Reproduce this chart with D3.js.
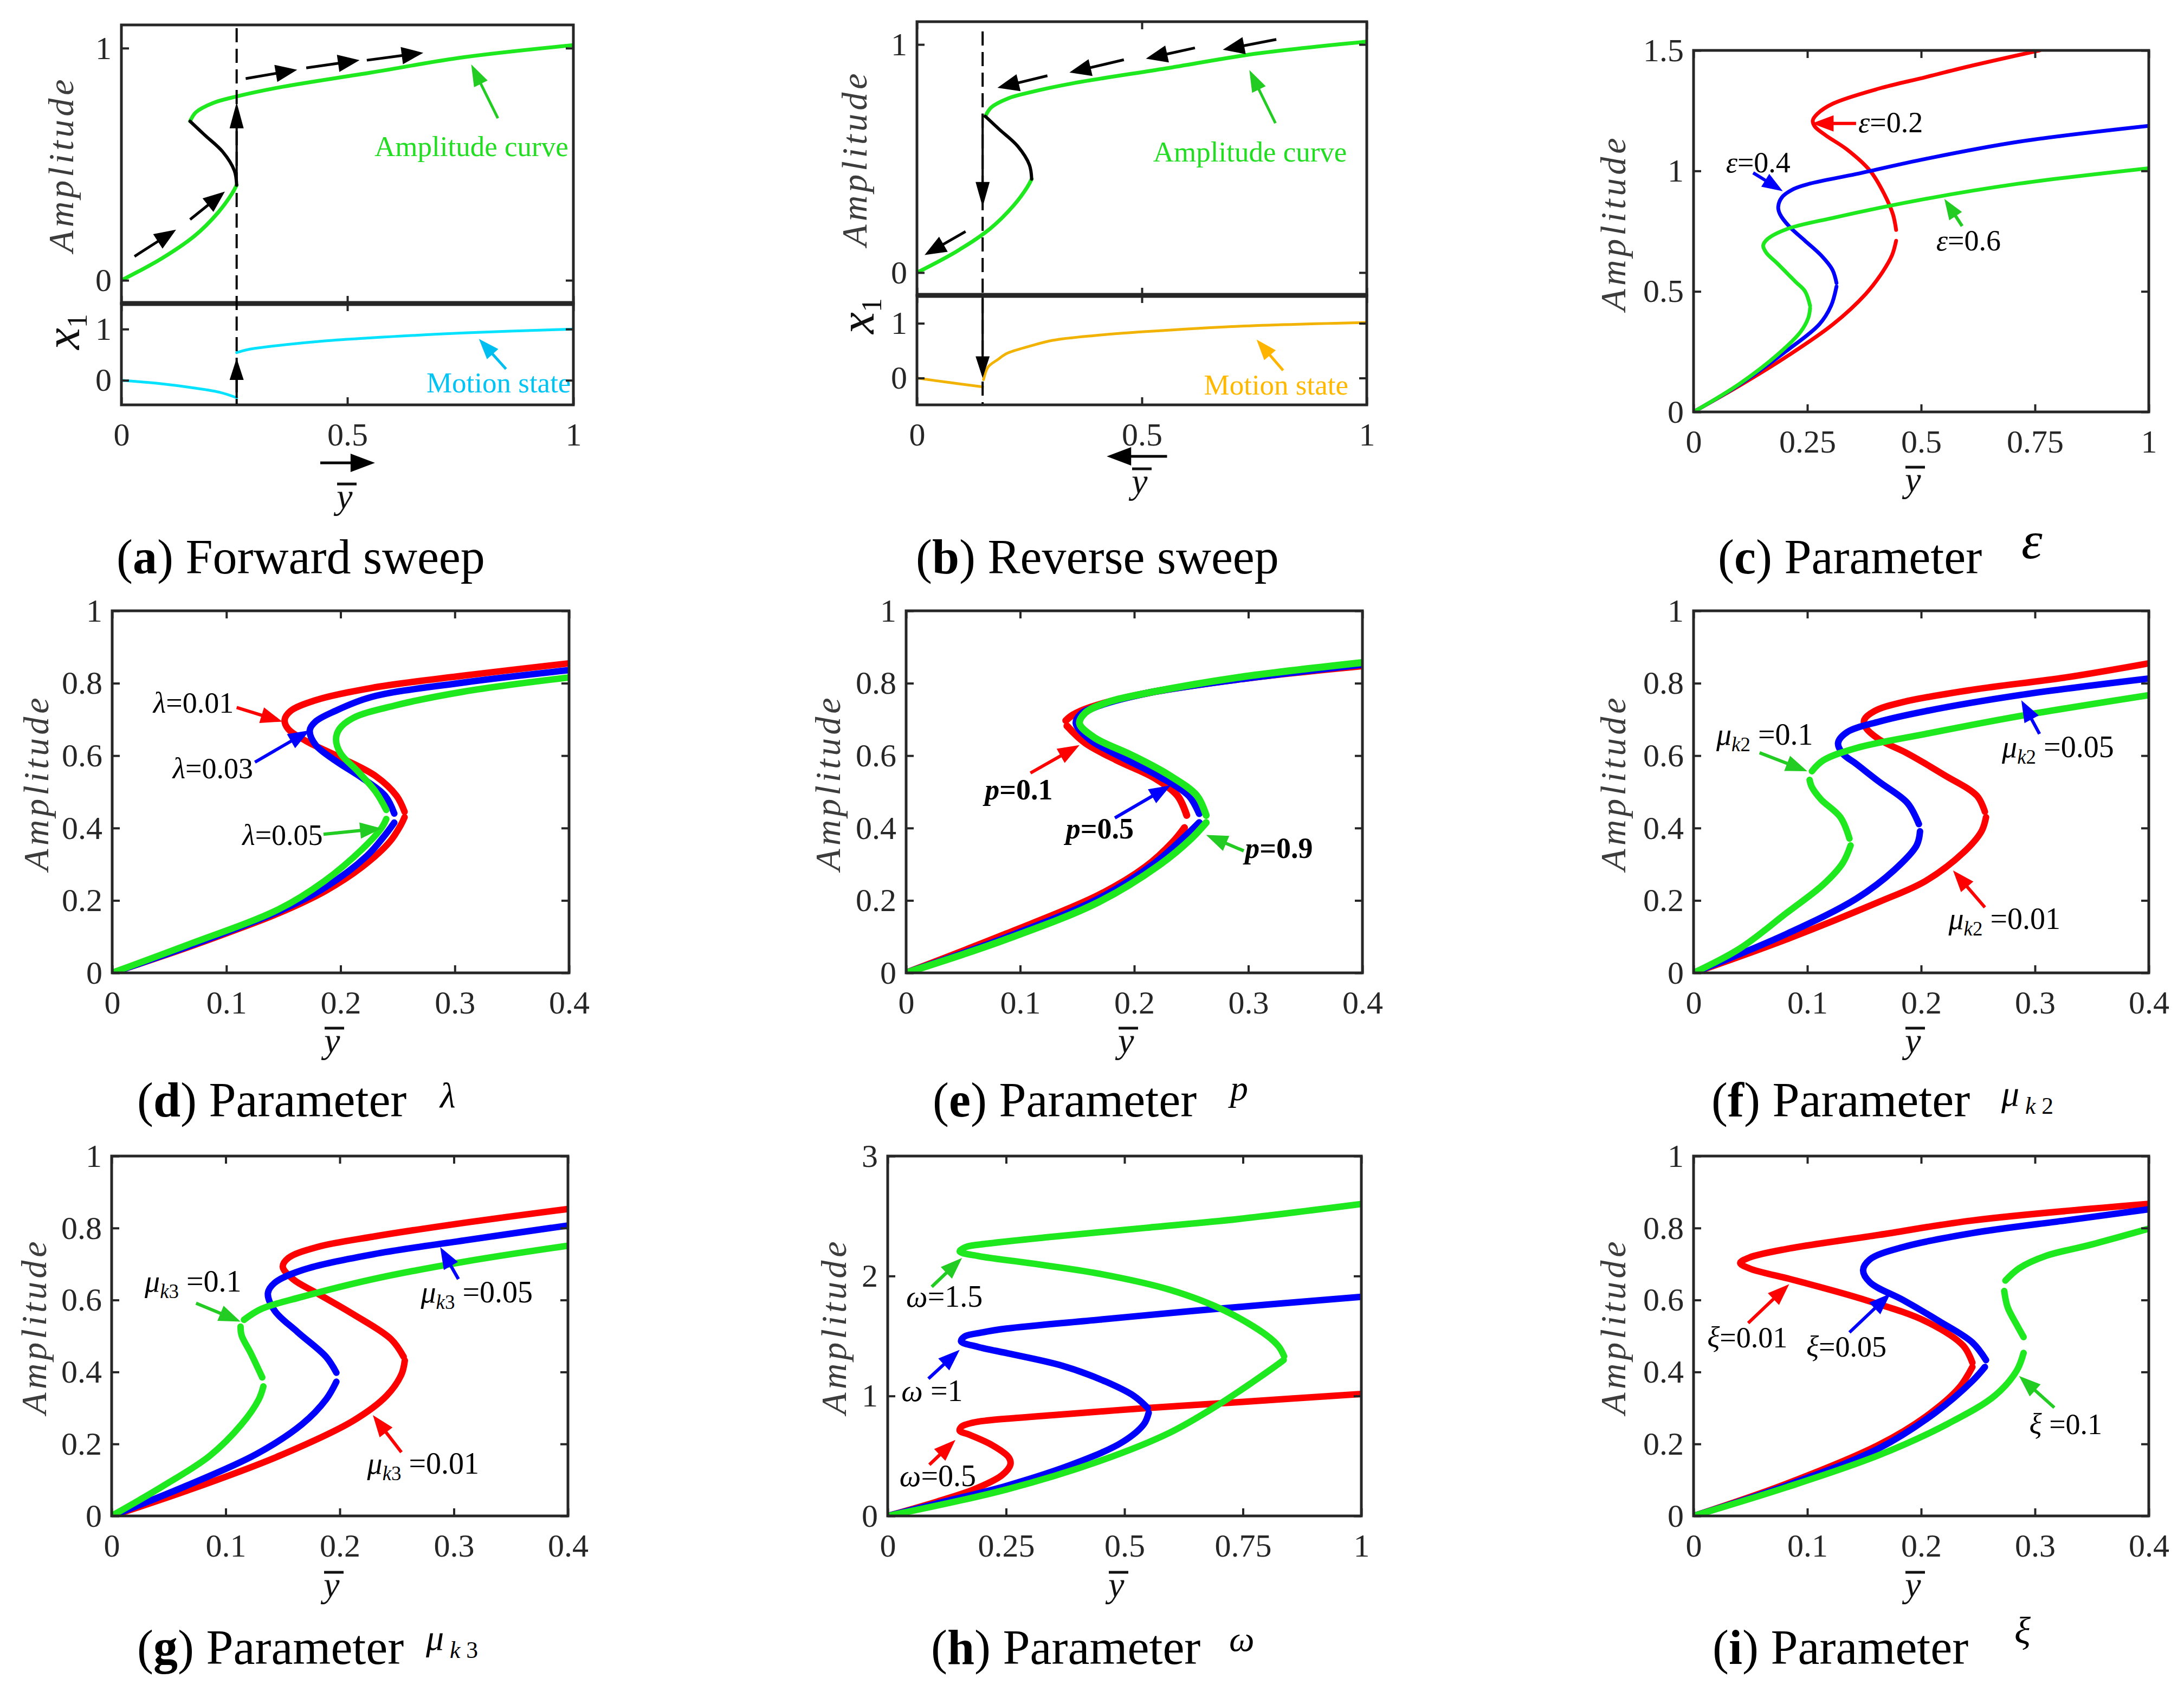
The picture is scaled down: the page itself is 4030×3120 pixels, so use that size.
<!DOCTYPE html>
<html>
<head>
<meta charset="utf-8">
<script src="https://cdn.jsdelivr.net/npm/d3@7"></script>
<style>
	body { margin: 0; background: #fff; }
</style>
</head>
<body>
<svg id="fig" width="4030" height="3120"></svg>
<script>
// ---------------- values ----------------

var ticksAB = [0, 0.5, 1];
var ticksAmpAB = [0, 1];
var ticksWide = [0, 0.25, 0.5, 0.75, 1];
var ticksNarrow = [0, 0.1, 0.2, 0.3, 0.4];
var ticksAmp = [0, 0.2, 0.4, 0.6, 0.8, 1];
var ticksEps = [0, 0.5, 1, 1.5];
var ticksOmega = [0, 1, 2, 3];

// (a)/(b) amplitude curve: stable lower branch, unstable middle, stable upper branch
var sweepLower = [[0, 0], [0.09, 0.095], [0.163, 0.193], [0.214, 0.292], [0.245, 0.374], [0.255, 0.41]];
var sweepMiddle = [[0.255, 0.41], [0.25, 0.472], [0.224, 0.554], [0.183, 0.628], [0.152, 0.685]];
var sweepUpper = [[0.152, 0.685], [0.165, 0.724], [0.203, 0.764], [0.255, 0.792], [0.347, 0.83], [0.553, 0.895], [0.758, 0.961], [1, 1.013]];

// motion state x1
var motionFwd = [[[0, 0], [0.08, -0.06], [0.16, -0.15], [0.22, -0.24], [0.255, -0.34]],
	[[0.255, 0.54], [0.28, 0.6], [0.347, 0.68], [0.45, 0.77], [0.553, 0.83], [0.758, 0.926], [1, 1.0]]];
var motionRev = [[[0, 0], [0.07, -0.08], [0.146, -0.16]],
	[[0.148, -0.03], [0.158, 0.2], [0.18, 0.34], [0.2, 0.45], [0.25, 0.58], [0.303, 0.69], [0.4, 0.78], [0.509, 0.848], [0.716, 0.945], [1, 1.014]]];

var jumpFwd = 0.255;
var jumpRev = 0.146;

// sweep direction arrows [x1, y1, x2, y2]
var fwdArrows = [[0.029, 0.103, 0.121, 0.218], [0.152, 0.262, 0.229, 0.382],
	[0.275, 0.869, 0.389, 0.907], [0.409, 0.915, 0.527, 0.948], [0.543, 0.948, 0.668, 0.98]];
var revArrows = [[0.799, 1.022, 0.68, 0.977], [0.618, 0.985, 0.509, 0.938],
	[0.46, 0.933, 0.339, 0.877], [0.29, 0.863, 0.179, 0.81], [0.108, 0.18, 0.017, 0.077]];

// (c) parameter epsilon
var eps02 = [[[0, 0], [0.102, 0.11], [0.204, 0.229], [0.306, 0.363], [0.378, 0.489], [0.415, 0.58], [0.436, 0.65], [0.445, 0.71]],
	[[0.445, 0.755], [0.438, 0.82], [0.42, 0.9], [0.388, 1.0], [0.337, 1.089], [0.29, 1.148], [0.266, 1.185], [0.262, 1.21], [0.272, 1.237], [0.306, 1.279], [0.408, 1.342], [0.51, 1.389], [0.612, 1.437], [0.76, 1.5]]];
var eps04 = [[[0, 0], [0.102, 0.115], [0.204, 0.253], [0.276, 0.363], [0.302, 0.44], [0.314, 0.52]],
	[[0.314, 0.535], [0.305, 0.59], [0.28, 0.65], [0.245, 0.71], [0.21, 0.77], [0.19, 0.82], [0.186, 0.85], [0.194, 0.89], [0.22, 0.925], [0.255, 0.947], [0.357, 0.987], [0.51, 1.05], [0.714, 1.121], [1, 1.187]]];
var eps06 = [[[0, 0], [0.102, 0.118], [0.184, 0.237], [0.235, 0.332], [0.252, 0.39], [0.256, 0.43]],
	[[0.256, 0.44], [0.245, 0.5], [0.224, 0.54], [0.184, 0.616], [0.16, 0.66], [0.153, 0.69], [0.163, 0.718], [0.204, 0.758], [0.306, 0.805], [0.51, 0.884], [0.714, 0.947], [1, 1.011]]];

// (d) parameter lambda
var lam001 = [[[0, 0], [0.064, 0.068], [0.105, 0.115], [0.146, 0.165], [0.186, 0.225], [0.219, 0.293], [0.243, 0.362], [0.253, 0.41], [0.256, 0.43]],
	[[0.256, 0.445], [0.249, 0.489], [0.231, 0.543], [0.199, 0.596], [0.17, 0.64], [0.154, 0.674], [0.151, 0.699], [0.156, 0.723], [0.178, 0.753], [0.227, 0.787], [0.308, 0.821], [0.4, 0.855]]];
var lam003 = [[[0, 0], [0.064, 0.07], [0.146, 0.17], [0.186, 0.235], [0.223, 0.323], [0.239, 0.381], [0.247, 0.415]],
	[[0.247, 0.44], [0.239, 0.489], [0.219, 0.538], [0.195, 0.587], [0.178, 0.63], [0.173, 0.67], [0.178, 0.694], [0.195, 0.723], [0.227, 0.762], [0.308, 0.802], [0.4, 0.836]]];
var lam005 = [[[0, 0], [0.064, 0.075], [0.146, 0.176], [0.186, 0.254], [0.219, 0.342], [0.236, 0.401], [0.24, 0.425]],
	[[0.24, 0.45], [0.231, 0.499], [0.215, 0.557], [0.2, 0.606], [0.196, 0.645], [0.199, 0.674], [0.211, 0.704], [0.247, 0.738], [0.308, 0.777], [0.4, 0.816]]];

// (e) parameter p
var p01 = [[[0, 0], [0.088, 0.108], [0.169, 0.215], [0.21, 0.293], [0.234, 0.362], [0.244, 0.401]],
	[[0.246, 0.435], [0.238, 0.489], [0.218, 0.538], [0.185, 0.587], [0.157, 0.635], [0.141, 0.682]],
	[[0.14, 0.697], [0.146, 0.712], [0.161, 0.733], [0.21, 0.772], [0.291, 0.811], [0.4, 0.848]]];
var p05 = [[[0, 0], [0.088, 0.098], [0.169, 0.205], [0.218, 0.303], [0.246, 0.381], [0.257, 0.415]],
	[[0.257, 0.44], [0.248, 0.489], [0.222, 0.543], [0.189, 0.596], [0.161, 0.645], [0.149, 0.689], [0.153, 0.714], [0.169, 0.738], [0.21, 0.772], [0.291, 0.811], [0.4, 0.852]]];
var p09 = [[[0, 0], [0.088, 0.093], [0.169, 0.196], [0.222, 0.298], [0.25, 0.371], [0.263, 0.415]],
	[[0.263, 0.435], [0.255, 0.489], [0.23, 0.547], [0.198, 0.601], [0.165, 0.65], [0.152, 0.689], [0.157, 0.718], [0.177, 0.748], [0.218, 0.777], [0.291, 0.816], [0.4, 0.857]]];

// (f) parameter mu_k2
var mk2_001 = [[[0, 0], [0.082, 0.093], [0.163, 0.196], [0.204, 0.254], [0.237, 0.332], [0.253, 0.391], [0.257, 0.43]],
	[[0.256, 0.445], [0.249, 0.489], [0.22, 0.547], [0.188, 0.606], [0.163, 0.645], [0.151, 0.679], [0.15, 0.699], [0.159, 0.723], [0.184, 0.748], [0.245, 0.782], [0.327, 0.816], [0.4, 0.855]]];
var mk2_005 = [[[0, 0], [0.082, 0.108], [0.143, 0.205], [0.176, 0.283], [0.196, 0.352], [0.199, 0.391]],
	[[0.198, 0.411], [0.188, 0.469], [0.163, 0.528], [0.143, 0.577], [0.131, 0.606], [0.127, 0.635], [0.135, 0.665], [0.163, 0.694], [0.204, 0.723], [0.286, 0.767], [0.4, 0.813]]];
var mk2_01 = [[[0, 0], [0.041, 0.068], [0.082, 0.166], [0.114, 0.244], [0.131, 0.303], [0.138, 0.352]],
	[[0.137, 0.371], [0.129, 0.43], [0.112, 0.479], [0.104, 0.513], [0.102, 0.533]],
	[[0.104, 0.557], [0.114, 0.587], [0.143, 0.621], [0.204, 0.66], [0.286, 0.709], [0.4, 0.767]]];

// (g) parameter mu_k3
var mk3_001 = [[[0, 0], [0.065, 0.069], [0.147, 0.167], [0.212, 0.265], [0.241, 0.334], [0.254, 0.393], [0.257, 0.432]],
	[[0.256, 0.442], [0.245, 0.491], [0.212, 0.56], [0.18, 0.619], [0.159, 0.658], [0.15, 0.693], [0.155, 0.717], [0.18, 0.747], [0.229, 0.776], [0.31, 0.815], [0.4, 0.853]]];
var mk3_005 = [[[0, 0], [0.065, 0.083], [0.127, 0.172], [0.167, 0.255], [0.188, 0.324], [0.197, 0.373]],
	[[0.197, 0.398], [0.188, 0.442], [0.163, 0.511], [0.143, 0.57], [0.137, 0.619], [0.143, 0.648], [0.167, 0.683], [0.229, 0.727], [0.31, 0.766], [0.4, 0.807]]];
var mk3_01 = [[[0, 0], [0.045, 0.083], [0.086, 0.167], [0.114, 0.255], [0.129, 0.324], [0.133, 0.36]],
	[[0.132, 0.385], [0.122, 0.452], [0.114, 0.501], [0.113, 0.526]],
	[[0.116, 0.545], [0.131, 0.575], [0.167, 0.609], [0.229, 0.658], [0.31, 0.707], [0.4, 0.751]]];

// (h) parameter omega
var om05 = [[[0, 0], [0.103, 0.118], [0.182, 0.221], [0.241, 0.339], [0.259, 0.427], [0.256, 0.486], [0.221, 0.589], [0.172, 0.678], [0.152, 0.71], [0.156, 0.745], [0.18, 0.778], [0.211, 0.796], [0.349, 0.84], [0.546, 0.899], [0.742, 0.949], [1, 1.017]]];
var om1 = [[[0, 0], [0.103, 0.103], [0.251, 0.251], [0.398, 0.442], [0.497, 0.619], [0.541, 0.766], [0.551, 0.86]],
	[[0.549, 0.9], [0.52, 1.0], [0.46, 1.12], [0.37, 1.25], [0.26, 1.35], [0.19, 1.41], [0.155, 1.455], [0.162, 1.495], [0.2, 1.53], [0.251, 1.562], [0.447, 1.636], [0.644, 1.709], [1, 1.827]]];
var om15 = [[[0, 0], [0.251, 0.221], [0.447, 0.457], [0.595, 0.693], [0.693, 0.914], [0.772, 1.12], [0.826, 1.27], [0.836, 1.3]],
	[[0.837, 1.33], [0.826, 1.41], [0.801, 1.503], [0.713, 1.709], [0.595, 1.886], [0.447, 2.019], [0.3, 2.107], [0.192, 2.166], [0.152, 2.205], [0.165, 2.242], [0.211, 2.27], [0.349, 2.328], [0.546, 2.402], [0.742, 2.476], [1, 2.6]]];

// (i) parameter xi
var xi001 = [[[0, 0], [0.082, 0.09], [0.163, 0.198], [0.204, 0.276], [0.233, 0.355], [0.245, 0.414]],
	[[0.245, 0.426], [0.237, 0.473], [0.204, 0.541], [0.151, 0.6], [0.09, 0.654], [0.049, 0.688], [0.041, 0.703], [0.049, 0.718], [0.082, 0.742], [0.163, 0.781], [0.245, 0.821], [0.4, 0.867]]];
var xi005 = [[[0, 0], [0.082, 0.085], [0.163, 0.188], [0.212, 0.286], [0.245, 0.375], [0.256, 0.414]],
	[[0.257, 0.433], [0.245, 0.482], [0.216, 0.541], [0.184, 0.6], [0.155, 0.649], [0.149, 0.683], [0.155, 0.713], [0.184, 0.747], [0.245, 0.786], [0.327, 0.821], [0.4, 0.852]]];
var xi01 = [[[0, 0], [0.082, 0.08], [0.163, 0.169], [0.224, 0.257], [0.265, 0.335], [0.284, 0.404], [0.29, 0.453]],
	[[0.29, 0.497], [0.284, 0.531], [0.276, 0.58], [0.273, 0.625]],
	[[0.274, 0.654], [0.286, 0.688], [0.31, 0.723], [0.347, 0.752], [0.4, 0.798]]];

// ---------------- drawing ----------------

var SERIF = '"Liberation Serif", "Times New Roman", serif';
var INK = '#262626';
var RED = '#ff0000', BLUE = '#0000ff', GREEN = '#1ee81e', ARROW_GREEN = '#22cc22';
var CYAN = '#00e2ff', ORANGE = '#f2b200';
var TICK = 14;

var svg = d3.select('#fig');
svg.append('rect').attr('width', 4030).attr('height', 3120).attr('fill', '#fff');
var clipCount = 0;
var fmt = d3.format('~g');
var none = function() { return ''; };

function addPanel(box, xDomain, yDomain) {
	var self = {box: box};
	self.x = d3.scaleLinear().domain(xDomain).range([box.left, box.right]);
	self.y = d3.scaleLinear().domain(yDomain).range([box.bottom, box.top]);
	self.g = svg.append('g');
	var id = 'clip' + (clipCount++);
	svg.append('clipPath').attr('id', id).append('rect')
		.attr('x', box.left).attr('y', box.top)
		.attr('width', box.right - box.left).attr('height', box.bottom - box.top);
	self.plot = self.g.append('g').attr('clip-path', 'url(#' + id + ')');
	self.over = self.g.append('g');
	return self;
}

function styleAxis(sel) {
	sel.select('.domain').remove();
	sel.selectAll('.tick line').attr('stroke', INK).attr('stroke-width', 4);
	sel.selectAll('.tick text').attr('fill', INK).attr('font-size', 60).attr('font-family', SERIF);
}

function addAxes(pn, xTicks, yTicks, opt) {
	opt = opt || {};
	var b = pn.box, g = pn.g;
	if (xTicks) {
		g.append('g').attr('transform', 'translate(0,' + b.bottom + ')')
			.call(d3.axisBottom(pn.x).tickValues(xTicks).tickSizeInner(-TICK).tickSizeOuter(0)
				.tickPadding(32).tickFormat(opt.noXLabels ? none : fmt))
			.call(styleAxis);
		if (opt.top !== false) {
			g.append('g').attr('transform', 'translate(0,' + b.top + ')')
				.call(d3.axisTop(pn.x).tickValues(xTicks).tickSizeInner(-TICK).tickSizeOuter(0).tickFormat(none))
				.call(styleAxis);
		}
	}
	g.append('g').attr('transform', 'translate(' + b.left + ',0)')
		.call(d3.axisLeft(pn.y).tickValues(yTicks).tickSizeInner(-TICK).tickSizeOuter(0)
			.tickPadding(18).tickFormat(fmt))
		.call(styleAxis);
	g.append('g').attr('transform', 'translate(' + b.right + ',0)')
		.call(d3.axisRight(pn.y).tickValues(yTicks).tickSizeInner(-TICK).tickSizeOuter(0).tickFormat(none))
		.call(styleAxis);
	g.append('rect')
		.attr('x', b.left).attr('y', b.top)
		.attr('width', b.right - b.left).attr('height', b.bottom - b.top)
		.attr('fill', 'none').attr('stroke', INK).attr('stroke-width', 5);
}

function drawCurve(pn, segments, color, width) {
	var line = d3.line()
		.x(function(d) { return pn.x(d[0]); })
		.y(function(d) { return pn.y(d[1]); })
		.curve(d3.curveCatmullRom.alpha(0.5));
	pn.plot.selectAll(null)
		.data(segments)
		.enter()
		.append('path')
		.attr('d', line)
		.attr('fill', 'none')
		.attr('stroke', color)
		.attr('stroke-width', width)
		.attr('stroke-linecap', 'round')
		.attr('stroke-linejoin', 'round');
}

// arrow in pixel space, tip at (x2, y2)
function arrow(g, x1, y1, x2, y2, color, lw, len, half) {
	var dx = x2 - x1, dy = y2 - y1;
	var d = Math.sqrt(dx * dx + dy * dy);
	var ux = dx / d, uy = dy / d;
	var bx = x2 - ux * len, by = y2 - uy * len;
	g.append('line')
		.attr('x1', x1).attr('y1', y1)
		.attr('x2', bx + ux * 4).attr('y2', by + uy * 4)
		.attr('stroke', color).attr('stroke-width', lw);
	g.append('path')
		.attr('d', 'M' + x2 + ',' + y2 +
			'L' + (bx - uy * half) + ',' + (by + ux * half) +
			'L' + (bx + uy * half) + ',' + (by - ux * half) + 'Z')
		.attr('fill', color);
}

function dataArrow(pn, a, color, lw, len, half) {
	arrow(pn.over, pn.x(a[0]), pn.y(a[1]), pn.x(a[2]), pn.y(a[3]), color, lw, len, half);
}

// text made of parts: [string, kind]; kind: r roman, i italic, b bold, bi bold italic, s* subscript
function mathText(g, px, py, parts, size, color) {
	var t = g.append('text')
		.attr('x', px).attr('y', py)
		.attr('font-size', size)
		.attr('font-family', SERIF)
		.attr('fill', color || '#000');
	var shift = 0;
	parts.forEach(function(p) {
		var s = t.append('tspan').text(p[0]);
		var k = p[1];
		var sub = k.charAt(0) === 's';
		if (k.indexOf('i') >= 0) s.attr('font-style', 'italic');
		if (k.indexOf('b') >= 0) s.attr('font-weight', 'bold');
		var want = sub ? size * 0.22 : 0;
		if (want !== shift) { s.attr('dy', want - shift); shift = want; }
		if (sub) s.attr('font-size', size * 0.66);
	});
	return t;
}

function label(pn, lx, ly, parts, size, color) {
	return mathText(pn.over, pn.x(lx), pn.y(ly), parts, size, color);
}

function ampLabel(cx, cy) {
	svg.append('text')
		.attr('transform', 'translate(' + cx + ',' + cy + ') rotate(-90)')
		.attr('text-anchor', 'middle')
		.attr('dy', '0.35em')
		.attr('font-family', SERIF)
		.attr('font-style', 'italic')
		.attr('font-size', 66)
		.attr('letter-spacing', 6)
		.attr('fill', '#3c3c3c')
		.text('Amplitude');
}

function x1Label(bx, cy) {
	var t = svg.append('text')
		.attr('transform', 'translate(' + bx + ',' + cy + ') rotate(-90)')
		.attr('text-anchor', 'middle')
		.attr('font-family', SERIF)
		.attr('font-size', 90)
		.attr('fill', '#111');
	t.append('tspan').attr('font-style', 'italic').text('x');
	t.append('tspan').attr('font-size', 52).attr('dy', 14).text('1');
}

function ybar(cx, baseline) {
	svg.append('text')
		.attr('x', cx).attr('y', baseline)
		.attr('text-anchor', 'middle')
		.attr('font-family', SERIF)
		.attr('font-style', 'italic')
		.attr('font-size', 66)
		.attr('fill', '#111')
		.text('y');
	svg.append('line')
		.attr('x1', cx - 14).attr('x2', cx + 22)
		.attr('y1', baseline - 45).attr('y2', baseline - 45)
		.attr('stroke', '#111').attr('stroke-width', 5);
}

function caption(x, y, letter, rest) {
	mathText(svg, x, y, [['(', 'r'], [letter, 'b'], [')' + rest, 'r']], 90, '#000');
}

// ---------- (a) forward sweep ----------
var aUp = addPanel({left: 224, right: 1058, top: 46, bottom: 560}, [0, 1], [-0.1, 1.1]);
var aLo = addPanel({left: 224, right: 1058, top: 560, bottom: 747}, [0, 1], [-0.48, 1.5]);
addAxes(aUp, ticksAB, ticksAmpAB, {noXLabels: true, top: false});
addAxes(aLo, ticksAB, ticksAmpAB, {top: true});
svg.append('line').attr('x1', 224).attr('x2', 1058).attr('y1', 560).attr('y2', 560)
	.attr('stroke', INK).attr('stroke-width', 9);

drawCurve(aUp, [sweepLower, sweepUpper], GREEN, 7);
drawCurve(aUp, [sweepMiddle], '#000', 6);
drawCurve(aLo, motionFwd, CYAN, 5);

svg.append('line')
	.attr('x1', aUp.x(jumpFwd)).attr('x2', aUp.x(jumpFwd))
	.attr('y1', 52).attr('y2', 745)
	.attr('stroke', '#000').attr('stroke-width', 4).attr('stroke-dasharray', '26,12');
arrow(aUp.over, aUp.x(jumpFwd), aUp.y(0.41), aUp.x(jumpFwd), aUp.y(0.767), '#000', 4, 48, 13);
arrow(aLo.over, aLo.x(jumpFwd), aLo.y(-0.345), aLo.x(jumpFwd), aLo.y(0.43), '#000', 4, 40, 13);
fwdArrows.forEach(function(a) { dataArrow(aUp, a, '#000', 5, 40, 16); });

label(aUp, 0.56, 0.535, [['Amplitude curve', 'r']], 53, '#22dd22');
dataArrow(aUp, [0.833, 0.698, 0.774, 0.93], ARROW_GREEN, 5, 40, 14);
label(aLo, 0.675, -0.235, [['Motion state', 'r']], 53, '#00c4f4');
dataArrow(aLo, [0.851, 0.22, 0.791, 0.81], '#00bff0', 5, 38, 14);

ampLabel(112, 303);
x1Label(146, 612);
arrow(svg, aLo.x(0.44), 854, aLo.x(0.561), 854, '#000', 5, 45, 17);
ybar(636, 938);
caption(215, 1058, 'a', ' Forward sweep');

// ---------- (b) reverse sweep ----------
var bUp = addPanel({left: 1692, right: 2522, top: 40, bottom: 545}, [0, 1], [-0.1, 1.1]);
var bLo = addPanel({left: 1692, right: 2522, top: 545, bottom: 747}, [0, 1], [-0.49, 1.51]);
addAxes(bUp, ticksAB, ticksAmpAB, {noXLabels: true, top: true});
addAxes(bLo, ticksAB, ticksAmpAB, {top: true});
svg.append('line').attr('x1', 1692).attr('x2', 2522).attr('y1', 545).attr('y2', 545)
	.attr('stroke', INK).attr('stroke-width', 9);

drawCurve(bUp, [sweepLower, sweepUpper], GREEN, 7);
drawCurve(bUp, [sweepMiddle], '#000', 6);
drawCurve(bLo, motionRev, ORANGE, 5);

svg.append('line')
	.attr('x1', bUp.x(jumpRev)).attr('x2', bUp.x(jumpRev))
	.attr('y1', 58).attr('y2', 745)
	.attr('stroke', '#000').attr('stroke-width', 4).attr('stroke-dasharray', '26,12');
arrow(bUp.over, bUp.x(jumpRev), bUp.y(0.697), bUp.x(jumpRev), bUp.y(0.288), '#000', 4, 46, 13);
arrow(bLo.over, bLo.x(jumpRev), bLo.y(1.5), bLo.x(jumpRev), bLo.y(0.0), '#000', 4, 40, 13);
revArrows.forEach(function(a) { dataArrow(bUp, a, '#000', 5, 40, 16); });

label(bUp, 0.525, 0.488, [['Amplitude curve', 'r']], 53, '#22dd22');
dataArrow(bUp, [0.797, 0.655, 0.739, 0.888], ARROW_GREEN, 5, 40, 14);
label(bLo, 0.638, -0.3, [['Motion state', 'r']], 53, '#ffb800');
dataArrow(bLo, [0.814, 0.14, 0.755, 0.703], '#ffb400', 5, 38, 14);

ampLabel(1576, 292);
x1Label(1612, 583);
arrow(svg, bLo.x(0.556), 842, bLo.x(0.422), 842, '#000', 5, 45, 17);
ybar(2103, 910);
caption(1690, 1058, 'b', ' Reverse sweep');

// ---------- (c) epsilon ----------
var cP = addPanel({left: 3125, right: 3965, top: 93, bottom: 760}, [0, 1], [0, 1.5]);
addAxes(cP, ticksWide, ticksEps);
drawCurve(cP, eps02, RED, 7);
drawCurve(cP, eps04, BLUE, 7);
drawCurve(cP, eps06, GREEN, 7);
label(cP, 0.362, 1.161, [['\u03b5', 'i'], ['=0.2', 'r']], 54);
dataArrow(cP, [0.357, 1.197, 0.26, 1.197], RED, 6, 40, 15);
label(cP, 0.071, 0.995, [['\u03b5', 'i'], ['=0.4', 'r']], 54);
dataArrow(cP, [0.131, 0.992, 0.196, 0.916], BLUE, 6, 38, 14);
label(cP, 0.533, 0.671, [['\u03b5', 'i'], ['=0.6', 'r']], 54);
dataArrow(cP, [0.59, 0.771, 0.551, 0.884], ARROW_GREEN, 6, 38, 14);
ampLabel(2976, 411);
ybar(3530, 907);
caption(3170, 1058, 'c', ' Parameter');
mathText(svg, 3730, 1030, [['\u03b5', 'i']], 98);

// ---------- row 2 ----------
var rowTop2 = 1127, rowBot2 = 1795;

var dP = addPanel({left: 207, right: 1050, top: rowTop2, bottom: rowBot2}, [0, 0.4], [0, 1]);
addAxes(dP, ticksNarrow, ticksAmp);
drawCurve(dP, lam001, RED, 12);
drawCurve(dP, lam003, BLUE, 12);
drawCurve(dP, lam005, GREEN, 12);
label(dP, 0.036, 0.718, [['\u03bb', 'i'], ['=0.01', 'r']], 54);
dataArrow(dP, [0.109, 0.733, 0.149, 0.694], RED, 6, 40, 15);
label(dP, 0.053, 0.538, [['\u03bb', 'i'], ['=0.03', 'r']], 54);
dataArrow(dP, [0.125, 0.582, 0.173, 0.67], BLUE, 6, 40, 15);
label(dP, 0.114, 0.354, [['\u03bb', 'i'], ['=0.05', 'r']], 54);
dataArrow(dP, [0.185, 0.383, 0.236, 0.399], ARROW_GREEN, 6, 40, 15);
ampLabel(66, 1444);
ybar(613, 1942);
caption(253, 2060, 'd', ' Parameter');
mathText(svg, 812, 2043, [['\u03bb', 'i']], 66);

var eP = addPanel({left: 1672, right: 2514, top: rowTop2, bottom: rowBot2}, [0, 0.4], [0, 1]);
addAxes(eP, ticksNarrow, ticksAmp);
drawCurve(eP, p01, RED, 13);
drawCurve(eP, p05, BLUE, 13);
drawCurve(eP, p09, GREEN, 13);
label(eP, 0.069, 0.479, [['p', 'bi'], ['=0.1', 'b']], 54);
dataArrow(eP, [0.109, 0.552, 0.152, 0.629], RED, 6, 40, 15);
label(eP, 0.14, 0.371, [['p', 'bi'], ['=0.5', 'b']], 54);
dataArrow(eP, [0.183, 0.428, 0.232, 0.518], BLUE, 6, 40, 15);
label(eP, 0.297, 0.318, [['p', 'bi'], ['=0.9', 'b']], 54);
dataArrow(eP, [0.296, 0.337, 0.263, 0.381], ARROW_GREEN, 6, 40, 15);
ampLabel(1527, 1444);
ybar(2078, 1942);
caption(1721, 2060, 'e', ' Parameter');
mathText(svg, 2270, 2030, [['p', 'i']], 66);

var fP = addPanel({left: 3125, right: 3965, top: rowTop2, bottom: rowBot2}, [0, 0.4], [0, 1]);
addAxes(fP, ticksNarrow, ticksAmp);
drawCurve(fP, mk2_001, RED, 12);
drawCurve(fP, mk2_005, BLUE, 12);
drawCurve(fP, mk2_01, GREEN, 12);
label(fP, 0.02, 0.63, [['\u03bc', 'i'], ['k', 'si'], ['2', 'sr'], [' =0.1', 'r']], 56);
dataArrow(fP, [0.058, 0.608, 0.1, 0.557], ARROW_GREEN, 6, 40, 15);
label(fP, 0.271, 0.596, [['\u03bc', 'i'], ['k', 'si'], ['2', 'sr'], [' =0.05', 'r']], 56);
dataArrow(fP, [0.304, 0.66, 0.288, 0.753], BLUE, 6, 40, 15);
label(fP, 0.224, 0.122, [['\u03bc', 'i'], ['k', 'si'], ['2', 'sr'], [' =0.01', 'r']], 56);
dataArrow(fP, [0.256, 0.181, 0.228, 0.283], RED, 6, 40, 15);
ampLabel(2976, 1444);
ybar(3530, 1942);
caption(3158, 2060, 'f', ' Parameter');
mathText(svg, 3693, 2040, [['\u03bc', 'i'], [' k', 'si'], [' 2', 'sr']], 66);

// ---------- row 3 ----------
var rowTop3 = 2133, rowBot3 = 2797;

var gP = addPanel({left: 206, right: 1048, top: rowTop3, bottom: rowBot3}, [0, 0.4], [0, 1]);
addAxes(gP, ticksNarrow, ticksAmp);
drawCurve(gP, mk3_001, RED, 12);
drawCurve(gP, mk3_005, BLUE, 12);
drawCurve(gP, mk3_01, GREEN, 12);
label(gP, 0.029, 0.624, [['\u03bc', 'i'], ['k', 'si'], ['3', 'sr'], [' =0.1', 'r']], 56);
dataArrow(gP, [0.074, 0.591, 0.113, 0.54], ARROW_GREEN, 6, 40, 15);
label(gP, 0.271, 0.594, [['\u03bc', 'i'], ['k', 'si'], ['3', 'sr'], [' =0.05', 'r']], 56);
dataArrow(gP, [0.304, 0.658, 0.288, 0.747], BLUE, 6, 40, 15);
label(gP, 0.224, 0.118, [['\u03bc', 'i'], ['k', 'si'], ['3', 'sr'], [' =0.01', 'r']], 56);
dataArrow(gP, [0.254, 0.177, 0.229, 0.28], RED, 6, 40, 15);
ampLabel(62, 2447);
ybar(612, 2946);
caption(253, 3070, 'g', ' Parameter');
mathText(svg, 786, 3044, [['\u03bc', 'i'], [' k', 'si'], [' 3', 'sr']], 66);

var hP = addPanel({left: 1638, right: 2512, top: rowTop3, bottom: rowBot3}, [0, 1], [0, 3]);
addAxes(hP, ticksWide, ticksOmega);
drawCurve(hP, om05, RED, 12);
drawCurve(hP, om1, BLUE, 12);
drawCurve(hP, om15, GREEN, 12);
label(hP, 0.039, 1.745, [['\u03c9', 'i'], ['=1.5', 'r']], 56);
dataArrow(hP, [0.093, 1.91, 0.157, 2.151], ARROW_GREEN, 6, 40, 15);
label(hP, 0.029, 0.958, [['\u03c9', 'i'], [' =1', 'r']], 56);
dataArrow(hP, [0.086, 1.144, 0.152, 1.385], BLUE, 6, 40, 15);
label(hP, 0.025, 0.25, [['\u03c9', 'i'], ['=0.5', 'r']], 56);
dataArrow(hP, [0.088, 0.427, 0.143, 0.634], RED, 6, 40, 15);
ampLabel(1538, 2447);
ybar(2060, 2946);
caption(1718, 3070, 'h', ' Parameter');
mathText(svg, 2268, 3046, [['\u03c9', 'i']], 66);

var iP = addPanel({left: 3125, right: 3965, top: rowTop3, bottom: rowBot3}, [0, 0.4], [0, 1]);
addAxes(iP, ticksNarrow, ticksAmp);
drawCurve(iP, xi001, RED, 12);
drawCurve(iP, xi005, BLUE, 12);
drawCurve(iP, xi01, GREEN, 12);
label(iP, 0.012, 0.468, [['\u03be', 'i'], ['=0.01', 'r']], 54);
dataArrow(iP, [0.048, 0.536, 0.084, 0.644], RED, 6, 40, 15);
label(iP, 0.099, 0.443, [['\u03be', 'i'], ['=0.05', 'r']], 54);
dataArrow(iP, [0.137, 0.51, 0.173, 0.618], BLUE, 6, 40, 15);
label(iP, 0.295, 0.227, [['\u03be', 'i'], [' =0.1', 'r']], 54);
dataArrow(iP, [0.317, 0.301, 0.286, 0.389], ARROW_GREEN, 6, 40, 15);
ampLabel(2976, 2447);
ybar(3530, 2946);
caption(3160, 3070, 'i', ' Parameter');
mathText(svg, 3717, 3032, [['\u03be', 'i']], 70);
</script>
</body>
</html>
